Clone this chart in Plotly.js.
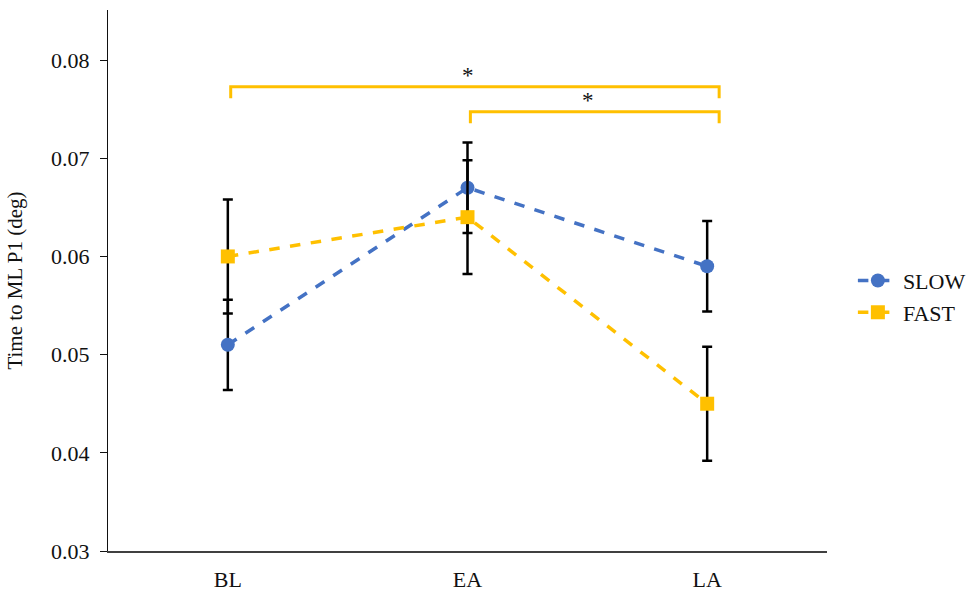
<!DOCTYPE html>
<html>
<head>
<meta charset="utf-8">
<script src="https://cdn.plot.ly/plotly-3.0.1.min.js"></script>
<style>html,body{margin:0;padding:0;background:#fff;}#chart{width:975px;height:591px;}</style>
</head>
<body>
<div id="chart"></div>
<script>
// ---- data ----
const categories = ['BL', 'EA', 'LA'];
const slowValues = [0.051, 0.067, 0.059];
const slowErrors = [0.0046, 0.0046, 0.0046];
const fastValues = [0.060, 0.064, 0.045];
const fastErrors = [0.0058, 0.0058, 0.0058];
const sigPairs = [['BL', 'LA'], ['EA', 'LA']];
const sigLabels = ['*', '*'];
const yTickValues = [0.03, 0.04, 0.05, 0.06, 0.07, 0.08];

// ---- styling / layout ----
const SERIF = 'Liberation Serif';
const BLUE = '#4472C4';
const GOLD = '#FFC000';
const bracketLevels = [0.07728, 0.07474];
const bracketDrop = 0.00118;
const starOffset = 0.0011;

function traceFor(name, vals, errs, color, symbol) {
  return {
    type: 'scatter', mode: 'lines+markers', name: name,
    x: categories, y: vals,
    line: {color: color, width: 3.5, dash: 'dash'},
    marker: {color: color, size: 14, symbol: symbol},
    error_y: {type: 'data', array: errs, visible: true, color: '#000', thickness: 2.5, width: 5}
  };
}

const shapes = [];
const annotations = [];
sigPairs.forEach((p, i) => {
  const x0 = categories.indexOf(p[0]) + 0.012;
  const x1 = categories.indexOf(p[1]) + 0.05;
  const yl = bracketLevels[i];
  shapes.push({
    type: 'path', xref: 'x', yref: 'y',
    path: `M ${x0} ${yl - bracketDrop} L ${x0} ${yl} L ${x1} ${yl} L ${x1} ${yl - bracketDrop}`,
    line: {color: GOLD, width: 3}
  });
  annotations.push({
    xref: 'x', yref: 'y', x: (x0 + x1) / 2 - 0.03, y: yl + starOffset,
    text: sigLabels[i], showarrow: false,
    font: {family: SERIF, size: 23, color: '#111'}
  });
});

const layout = {
  width: 975, height: 591,
  margin: {l: 108, r: 148, t: 10, b: 40, autoexpand: false},
  paper_bgcolor: '#fff', plot_bgcolor: '#fff',
  font: {family: SERIF, size: 22, color: '#111'},
  showlegend: true,
  legend: {x: 1.036, y: 0.47, xanchor: 'left', yanchor: 'middle',
           font: {family: SERIF, size: 22, color: '#111'}, tracegroupgap: 4, itemwidth: 40},
  xaxis: {
    type: 'category', range: [-0.5, 2.5],
    showline: true, linecolor: '#404040', linewidth: 1.5,
    showgrid: false, zeroline: false, ticks: '',
    ticklabelstandoff: 8,
    tickfont: {family: SERIF, size: 22, color: '#111'}
  },
  yaxis: {
    range: [0.03, 0.0851], tickvals: yTickValues, tickformat: '.2f',
    showline: true, linecolor: '#111', linewidth: 1,
    showgrid: false, zeroline: false, ticks: 'outside', ticklen: 7, tickcolor: '#111',
    ticklabelstandoff: 6,
    tickfont: {family: SERIF, size: 22, color: '#111'},
    title: {text: 'Time to ML P1 (deg)', font: {family: SERIF, size: 21, color: '#111'}, standoff: 22}
  },
  shapes: shapes,
  annotations: annotations
};

Plotly.newPlot('chart', [
  traceFor('SLOW', slowValues, slowErrors, BLUE, 'circle'),
  traceFor('FAST', fastValues, fastErrors, GOLD, 'square')
], layout, {displayModeBar: false, staticPlot: true});
</script>
</body>
</html>
